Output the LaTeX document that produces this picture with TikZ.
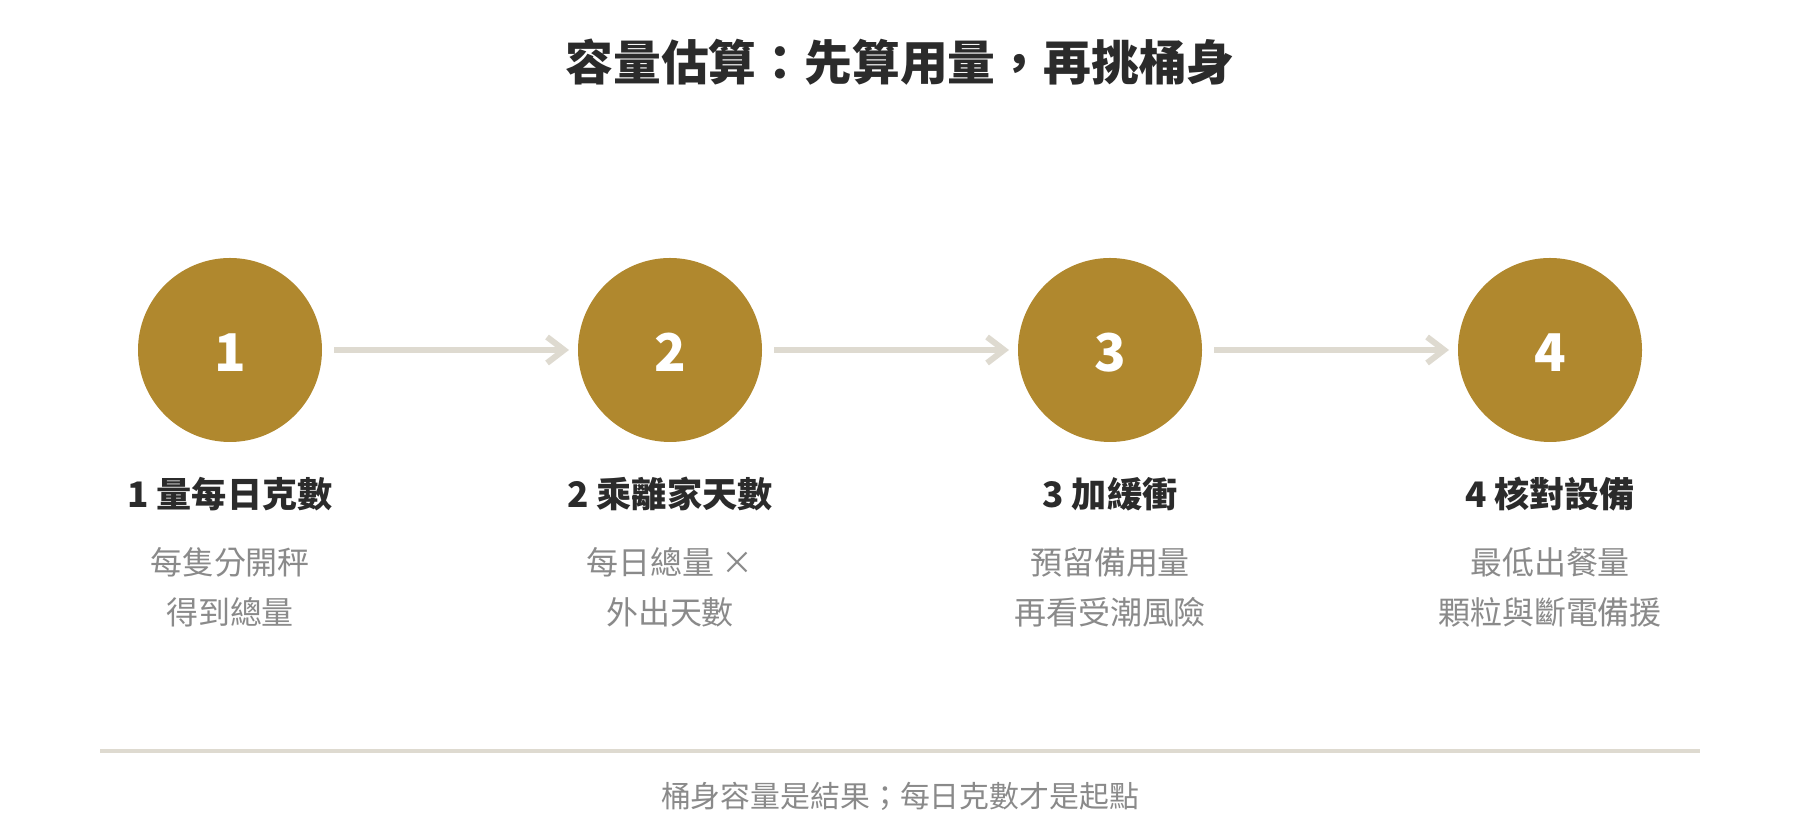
\documentclass[tikz,border=0pt]{standalone}
\usepackage{fontspec}
\setmainfont{Noto Sans CJK TC}
\usetikzlibrary{arrows.meta}
\definecolor{gold}{HTML}{B0882E}
\definecolor{ink}{HTML}{2B2B2B}
\definecolor{mute}{HTML}{8A8A8A}
\definecolor{rail}{HTML}{DEDAD0}
\tikzset{
    stepdot/.style={circle,fill=gold,minimum size=18.4mm,inner sep=0pt,outer sep=0pt,
        text height=4.4mm,text depth=0pt,
        text=white,font=\fontsize{14.8}{15}\selectfont\bfseries},
    steptitle/.style={text=ink,font=\fontsize{10}{12}\selectfont\bfseries},
    stepnote/.style={text=mute,align=center,font=\fontsize{9.1}{14.2}\selectfont},
    flow/.style={rail,line width=0.6mm,shorten <=1.2mm,shorten >=0.9mm,
        -{Straight Barb[length=1.7mm,width=2.6mm]}}
}
\begin{document}
\begin{tikzpicture}[x=0.1mm,y=0.1mm]
    \useasboundingbox (0,0) rectangle (1800,840);

    \node[text=ink,font=\fontsize{13.6}{15}\selectfont\bfseries] (title) at (900,778) {容量估算：先算用量，再挑桶身};

    % steps
    \node[stepdot] (one) at (230,490) {1};
    \node[stepdot] (two) at (670,490) {2};
    \node[stepdot] (three) at (1110,490) {3};
    \node[stepdot] (four) at (1550,490) {4};

    \draw[flow] (one) -- (two);
    \draw[flow] (two) -- (three);
    \draw[flow] (three) -- (four);

    \node[steptitle] (oneT) at (230,346) {1 量每日克數};
    \node[steptitle] (twoT) at (670,346) {2 乘離家天數};
    \node[steptitle] (threeT) at (1110,346) {3 加緩衝};
    \node[steptitle] (fourT) at (1550,346) {4 核對設備};

    \node[stepnote] (oneN) at (230,253) {每隻分開秤\\得到總量};
    \node[stepnote] (twoN) at (670,253) {每日總量 ×\\外出天數};
    \node[stepnote] (threeN) at (1110,253) {預留備用量\\再看受潮風險};
    \node[stepnote] (fourN) at (1550,253) {最低出餐量\\顆粒與斷電備援};

    % footer
    \coordinate (railL) at (100,89);
    \coordinate (railR) at (1700,89);
    \draw[rail,line width=0.4mm] (railL) -- (railR);
    \node[text=mute,font=\fontsize{8.5}{10}\selectfont] (note) at (900,44) {桶身容量是結果；每日克數才是起點};
\end{tikzpicture}
\end{document}
